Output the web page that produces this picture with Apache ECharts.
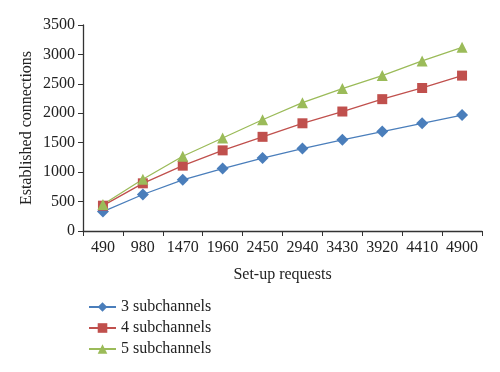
<!DOCTYPE html>
<html><head><meta charset="utf-8">
<script src="https://cdn.jsdelivr.net/npm/echarts@6/dist/echarts.min.js"></script>
<style>html,body{margin:0;padding:0;background:#fff}#c{width:500px;height:372px}</style>
</head><body><div id="c"></div>
<script>
const categories = ['490','980','1470','1960','2450','2940','3430','3920','4410','4900'];
const sub3 = [330, 620, 870, 1060, 1240, 1400, 1550, 1690, 1830, 1970];
const sub4 = [430, 810, 1110, 1370, 1600, 1830, 2030, 2240, 2430, 2640];
const sub5 = [450, 880, 1270, 1580, 1890, 2180, 2420, 2640, 2890, 3120];
const seriesNames = ['3 subchannels', '4 subchannels', '5 subchannels'];

const font = 'Liberation Serif';
const axisColor = '#333';
const chart = echarts.init(document.getElementById('c'));
function mk(name, data, color, symbol, size) {
  return { name, type: 'line', data, symbol, symbolSize: size, color,
    lineStyle: { width: 1.3, color }, itemStyle: { color }, showAllSymbol: true };
}
chart.setOption({
  animation: false,
  textStyle: { fontFamily: font },
  grid: { left: 83, right: 18, top: 25, bottom: 141 },
  legend: {
    orient: 'vertical', left: 83, top: 294, itemWidth: 27, itemHeight: 12, itemGap: 5,
    textStyle: { fontFamily: font, fontSize: 16, color: '#222' },
    data: seriesNames
  },
  xAxis: {
    type: 'category', data: categories, boundaryGap: true,
    name: 'Set-up requests', nameLocation: 'middle', nameGap: 36,
    nameTextStyle: { fontFamily: font, fontSize: 16, color: '#222' },
    axisLine: { lineStyle: { color: axisColor, width: 1.3 } },
    axisTick: { show: true, alignWithLabel: false, length: 5, lineStyle: { color: axisColor } },
    axisLabel: { fontFamily: font, fontSize: 16, color: '#222', margin: 9, interval: 0 }
  },
  yAxis: {
    type: 'value', min: 0, max: 3500, interval: 500,
    name: 'Established connections', nameLocation: 'middle', nameGap: 48, nameMoveOverlap: false,
    nameTextStyle: { fontFamily: font, fontSize: 16, color: '#222' },
    axisLine: { show: true, lineStyle: { color: axisColor, width: 1.3 } },
    axisTick: { show: true, length: 5, lineStyle: { color: axisColor } },
    axisLabel: { fontFamily: font, fontSize: 16, color: '#222', margin: 8, formatter: v => String(v) },
    splitLine: { show: false }
  },
  series: [
    mk(seriesNames[0], sub3, '#4a7ebb', 'diamond', 12),
    mk(seriesNames[1], sub4, '#c0504d', 'rect', 10),
    mk(seriesNames[2], sub5, '#9bbb59', 'triangle', 11)
  ]
});
</script></body></html>
